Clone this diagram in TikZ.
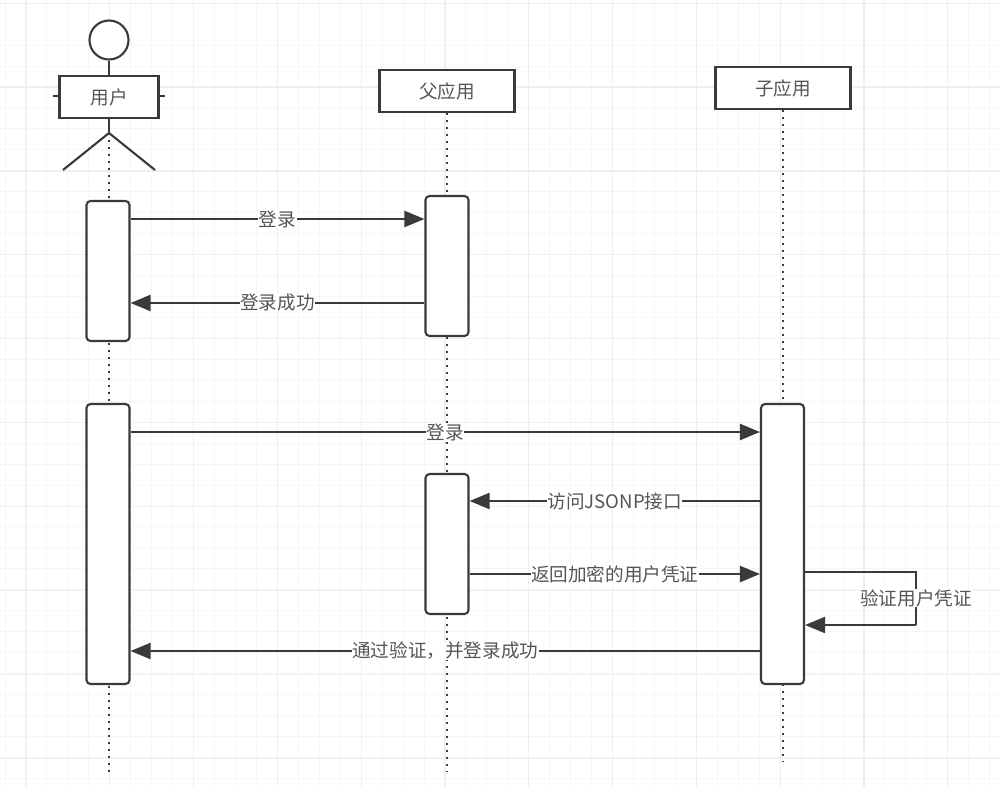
\documentclass[tikz,border=0pt]{standalone}
\usepackage{fontspec}
\setmainfont{Noto Sans CJK SC}
\usetikzlibrary{arrows.meta}
\definecolor{ink}{HTML}{3A3A3A}
\definecolor{txt}{HTML}{555555}
\definecolor{gridminor}{HTML}{F6F6F6}
\definecolor{gridmajor}{HTML}{EFEFEF}
\tikzset{
  pic/.style={x=1pt,y=-1pt},
  shapeline/.style={draw=ink,line width=2.1pt},
  boxnode/.style={shapeline,fill=white,minimum height=42pt,inner sep=0pt,text=txt,font=\fontsize{18.6}{20}\selectfont},
  bar/.style={shapeline,fill=white,rounded corners=4pt},
  life/.style={draw=ink,line width=2.3pt,dash pattern=on 2pt off 5pt},
  msg/.style={draw=ink,line width=2.2pt,-{Triangle[length=20pt,width=16pt,fill=ink]}},
  ret/.style={draw=ink,line width=2.2pt},
  lab/.style={fill=white,inner sep=0.5pt,text=txt,font=\fontsize{18.6}{20}\selectfont},
}
\begin{document}
\begin{tikzpicture}[pic]
\useasboundingbox (0,0) rectangle (1000,787);
\fill[white] (0,0) rectangle (1000,787);
% grid
\foreach \i in {-1,...,47}{
  \draw[gridminor,line width=1pt] ({26+20.95*\i},0) -- ({26+20.95*\i},787);
}
\foreach \i in {-2,...,37}{
  \draw[gridminor,line width=1pt] (0,{87+20.95*\i}) -- (1000,{87+20.95*\i});
}
\foreach \i in {0,...,11}{
  \draw[gridmajor,line width=1.2pt] ({26+83.8*\i},0) -- ({26+83.8*\i},787);
}
\foreach \i in {-1,...,8}{
  \draw[gridmajor,line width=1.2pt] (0,{87+83.9*\i}) -- (1000,{87+83.9*\i});
}
% lifeline anchors
\coordinate (u1) at (109,772);
\coordinate (p1) at (447,772);
\coordinate (c1) at (783,762);
% actor
\node[shapeline,circle,fill=white,minimum size=39pt,inner sep=0pt] (head) at (109,40) {};
\node[boxnode,minimum width=99pt] (user) at (109,97) {用户};
\node[boxnode,minimum width=135pt] (parent) at (447,91) {父应用};
\node[boxnode,minimum width=135pt] (child) at (783,88) {子应用};
\coordinate (hip) at (109,133);
\coordinate (legl) at (63,170);
\coordinate (legr) at (155,170);
\coordinate (arml) at (53,96);
\coordinate (armr) at (165,96);
\draw[life] (user.south) -- (u1);
\draw[life] (parent.south) -- (p1);
\draw[life] (child.south) -- (c1);
\draw[shapeline] (head) -- (user);
\draw[shapeline] (user) -- (hip);
\draw[shapeline] (legl) -- (hip) -- (legr);
\draw[shapeline] (arml) -- (user.west |- arml);
\draw[shapeline] (armr) -- (user.east |- armr);
% activation bars
\node[bar,minimum width=43pt,minimum height=140pt,inner sep=0pt] (ua) at (108,271) {};
\node[bar,minimum width=43pt,minimum height=140pt,inner sep=0pt] (pa) at (447,266) {};
\node[bar,minimum width=43pt,minimum height=280pt,inner sep=0pt] (ub) at (108,544) {};
\node[bar,minimum width=43pt,minimum height=280pt,inner sep=0pt] (cb) at (782.5,544) {};
\node[bar,minimum width=43pt,minimum height=140pt,inner sep=0pt] (pb) at (447,544) {};
% messages
\draw[msg] (ua.east |- 0,219) -- node[lab] {登录} (pa.west |- 0,219);
\draw[msg] (pa.west |- 0,303) -- node[lab] {登录成功} (ua.east |- 0,303);
\draw[msg] (ub.east |- 0,432) -- node[lab] {登录} (cb.west |- 0,432);
\draw[msg] (cb.west |- 0,501) -- node[lab] {访问JSONP接口} (pb.east |- 0,501);
\draw[msg] (pb.east |- 0,574) -- node[lab] {返回加密的用户凭证} (cb.west |- 0,574);
\coordinate (sr1) at (916,572);
\coordinate (sr2) at (916,625);
\draw[ret] (cb.east |- sr1) -- (sr1) -- (sr2);
\draw[msg] (sr2) -- (cb.east |- sr2);
\node[lab] (selflab) at (916,598) {验证用户凭证};
\draw[msg] (cb.west |- 0,651) -- node[lab] {通过验证，并登录成功} (ub.east |- 0,651);
\end{tikzpicture}
\end{document}
